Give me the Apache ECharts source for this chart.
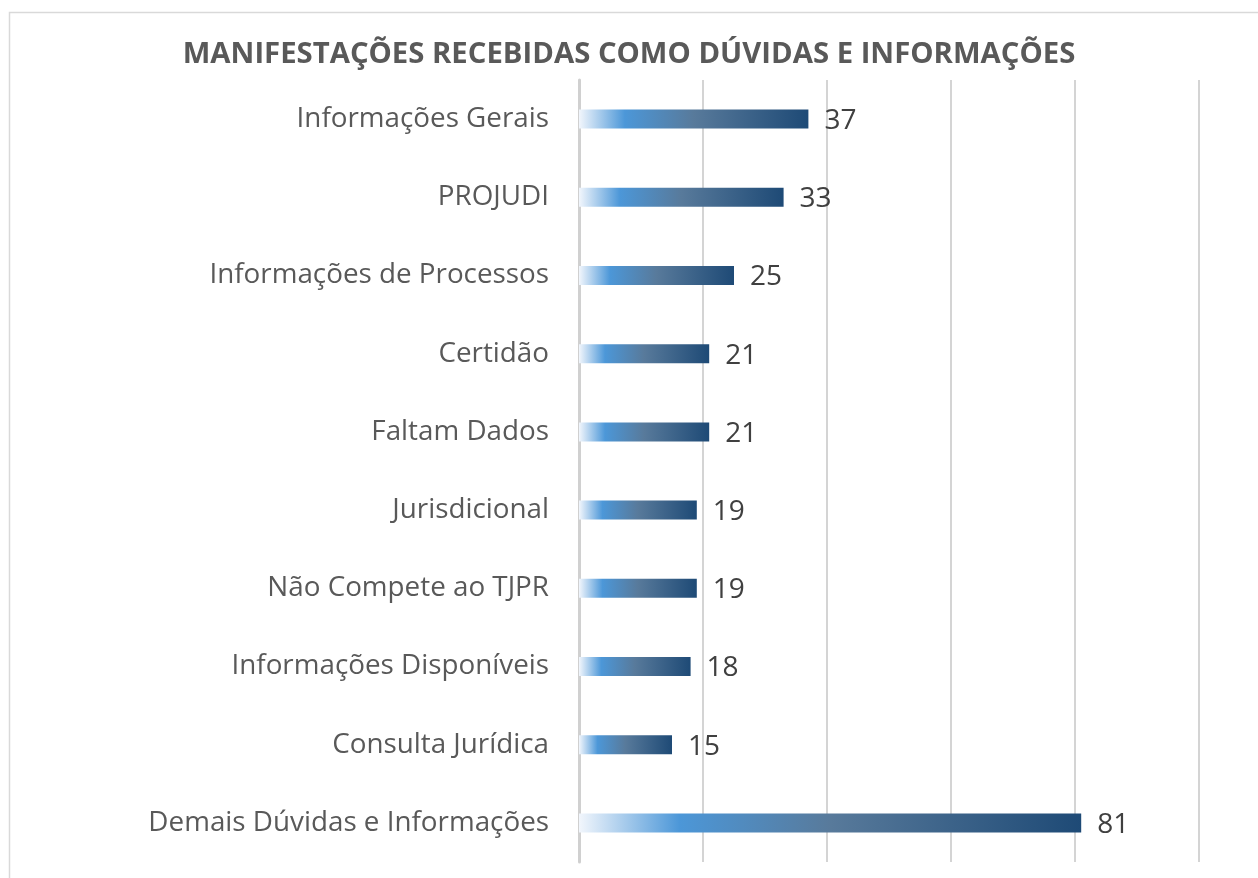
<!DOCTYPE html>
<html>
<head>
<meta charset="utf-8">
<script src="https://cdn.jsdelivr.net/npm/echarts@6/dist/echarts.min.js"></script>
<style>
  html, body { margin: 0; padding: 0; background: #fff; }
  #chart { width: 1258px; height: 878px; }
</style>
</head>
<body>
<div id="chart"></div>
<script>
const categories = [
  'Informações Gerais',
  'PROJUDI',
  'Informações de Processos',
  'Certidão',
  'Faltam Dados',
  'Jurisdicional',
  'Não Compete ao TJPR',
  'Informações Disponíveis',
  'Consulta Jurídica',
  'Demais Dúvidas e Informações'
]
const values = [37, 33, 25, 21, 21, 19, 19, 18, 15, 81]
const axisMax = 100
const axisStep = 20

const chart = echarts.init(document.getElementById('chart'))
const option = {
  animation: false,
  title: {
    text: 'MANIFESTAÇÕES RECEBIDAS COMO DÚVIDAS E INFORMAÇÕES',
    left: 'center',
    top: 35,
    textStyle: {
      color: '#595959',
      fontFamily: 'Open Sans',
      fontWeight: 'bold',
      fontSize: 29.3
    }
  },
  graphic: [
    {
      // chart frame, cut off at the right and bottom like the source
      type: 'rect',
      shape: { x: 9.5, y: 12.5, width: 1300, height: 900 },
      style: { fill: 'none', stroke: '#d9d9d9', lineWidth: 1.5 },
      silent: true
    }
  ],
  grid: {
    left: 579,
    right: 59,
    top: 80,
    bottom: 16
  },
  xAxis: {
    type: 'value',
    min: 0,
    max: axisMax,
    interval: axisStep,
    axisLabel: { show: false },
    axisLine: { show: false },
    axisTick: { show: false },
    splitLine: {
      show: true,
      lineStyle: { color: '#d4d4d4', width: 2 }
    }
  },
  yAxis: {
    type: 'category',
    inverse: true,
    data: categories,
    axisTick: { show: false },
    axisLine: {
      show: true,
      lineStyle: { color: '#d0d0d0', width: 3 }
    },
    axisLabel: {
      color: '#595959',
      fontFamily: 'Open Sans',
      fontSize: 27.8,
      margin: 30
    }
  },
  series: [
    {
      type: 'bar',
      data: values,
      barWidth: 19,
      itemStyle: {
        color: new echarts.graphic.LinearGradient(0, 0, 1, 0, [
          { offset: 0, color: '#f2f6fc' },
          { offset: 0.2, color: '#4c97d8' },
          { offset: 0.5, color: '#587a9b' },
          { offset: 1, color: '#1e4a76' }
        ])
      },
      label: {
        show: true,
        position: 'right',
        distance: 16,
        color: '#404040',
        fontFamily: 'Open Sans',
        fontSize: 28,
        offset: [0, 2]
      }
    }
  ]
}
chart.setOption(option)
</script>
</body>
</html>
